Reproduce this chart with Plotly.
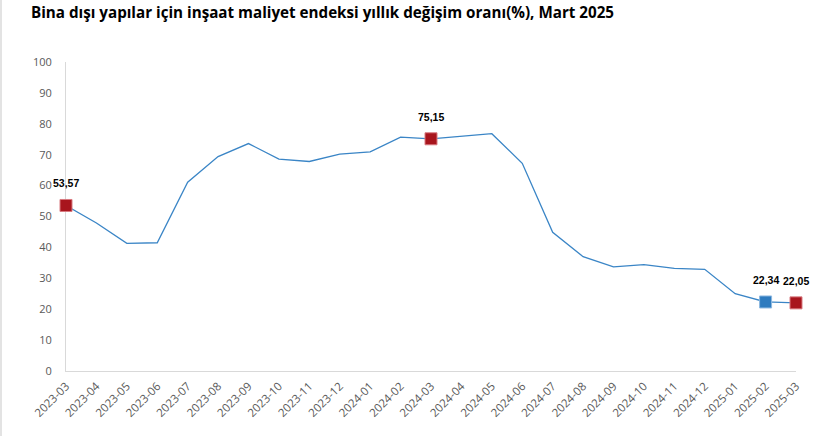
import plotly.graph_objects as go

months = ["2023-03","2023-04","2023-05","2023-06","2023-07","2023-08","2023-09","2023-10",
          "2023-11","2023-12","2024-01","2024-02","2024-03","2024-04","2024-05","2024-06",
          "2024-07","2024-08","2024-09","2024-10","2024-11","2024-12","2025-01","2025-02","2025-03"]
values = [53.57, 47.9, 41.3, 41.5, 61.1, 69.4, 73.6, 68.6, 67.8, 70.2, 70.9, 75.7, 75.15,
          75.9, 76.8, 67.2, 44.9, 37.0, 33.7, 34.4, 33.2, 32.9, 25.0, 22.34, 22.05]

red_months = ["2023-03", "2024-03", "2025-03"]
red_values = [53.57, 75.15, 22.05]
blue_months = ["2025-02"]
blue_values = [22.34]

label_months = red_months + blue_months
label_values = red_values + blue_values

fig = go.Figure()
fig.add_trace(go.Scatter(x=months, y=values, mode="lines",
                         line=dict(color="#3A85C6", width=1.3), hoverinfo="skip", cliponaxis=False))
fig.add_trace(go.Scatter(x=red_months, y=red_values, mode="markers",
                         marker=dict(symbol="square", size=12, color="#A8151D",
                                     line=dict(color="#D87A80", width=1)), cliponaxis=False))
fig.add_trace(go.Scatter(x=blue_months, y=blue_values, mode="markers",
                         marker=dict(symbol="square", size=12, color="#2E7BBF",
                                     line=dict(color="#8DB8E0", width=1)), cliponaxis=False))

for m, v in zip(label_months, label_values):
    fig.add_annotation(x=m, y=v, text="<b>" + f"{v:.2f}".replace(".", ",") + "</b>", showarrow=False,
                       yshift=22, font=dict(family="Liberation Sans", size=10.5, color="#000000"),
                       xref="x", yref="y")

L, R, T, B = 66, 31, 62, 65
PW = 827 - L - R
fig.update_layout(
    width=827, height=436,
    paper_bgcolor="white", plot_bgcolor="white",
    showlegend=False,
    margin=dict(l=L, r=R, t=T, b=B, autoexpand=False),
    title=dict(text="<b>Bina dışı yapılar için inşaat maliyet endeksi yıllık değişim oranı(%), Mart 2025</b>",
               x=31/827, xanchor="left", y=1-13/436, yanchor="middle",
               font=dict(family="Open Sans", size=15.2, color="#000000")),
    shapes=[dict(type="line", xref="paper", yref="paper", x0=-(L - 1)/PW, x1=-(L - 1)/PW,
                 y0=-B/(436 - T - B), y1=1 + T/(436 - T - B),
                 line=dict(width=2, color="#E3E3E3"))],
)
fig.update_xaxes(type="category", range=[0, len(months) - 1], showgrid=False, automargin=False,
                 showline=True, linecolor="#D9D9D9", linewidth=1, ticks="", layer="below traces",
                 ticklabelstandoff=3,
                 tickangle=-45, tickfont=dict(family="Open Sans", size=11.5, color="#595959"))
fig.update_yaxes(range=[0, 100], dtick=10, showgrid=False, zeroline=False, automargin=False,
                 showline=True, linecolor="#D9D9D9", linewidth=1, ticks="", layer="below traces",
                 ticklabelstandoff=11,
                 tickfont=dict(family="Open Sans", size=11, color="#595959"))

fig.write_html("out.html", config={"displayModeBar": False},
               post_script="document.body.style.margin='0';")
